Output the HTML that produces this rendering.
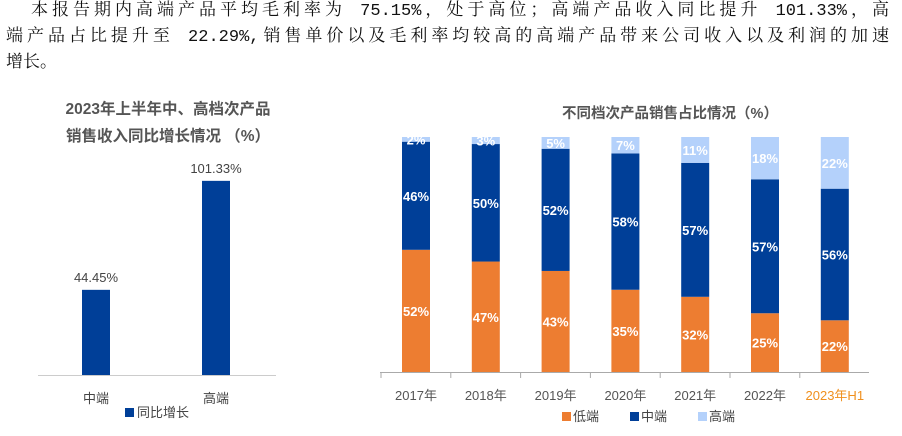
<!DOCTYPE html>
<html><head><meta charset="utf-8"><style>
body{margin:0;width:902px;height:436px;background:#fff;overflow:hidden;position:relative}
.pl{position:absolute;font-family:"Liberation Mono","Noto Serif CJK SC",serif;font-size:17px;line-height:26px;color:#111;white-space:nowrap;text-align:justify;text-align-last:justify}
svg{position:absolute;left:0;top:0}
text{font-family:"Liberation Sans","Noto Sans CJK SC",sans-serif}
</style></head><body>
<div>
<div class="pl" style="left:31px;top:-1px;width:858px">本报告期内高端产品平均毛利率为 75.15%，处于高位；高端产品收入同比提升 101.33%，高</div>
<div class="pl" style="left:6px;top:25px;width:883px">端产品占比提升至 22.29%,销售单价以及毛利率均较高的高端产品带来公司收入以及利润的加速</div>
<div class="pl" style="left:6px;top:51px;text-align-last:left">增长。</div>
</div>
<svg id="chart" width="902" height="436">
<text x="168" y="114" text-anchor="middle" font-size="15.5" font-weight="bold" fill="#555">2023年上半年中、高档次产品</text>
<text x="168" y="141" text-anchor="middle" font-size="15.5" font-weight="bold" fill="#555">销售收入同比增长情况 （%）</text>
<text x="670" y="118" text-anchor="middle" font-size="14.5" font-weight="bold" fill="#555">不同档次产品销售占比情况（%）</text>
<line x1="38" y1="375.5" x2="276" y2="375.5" stroke="#ccc"/>
<line x1="380" y1="372.5" x2="869" y2="372.5" stroke="#aaa"/>
<g id="left"></g><g id="right"></g>
<rect x="125" y="408" width="9" height="9" fill="#003f98"/>
<text x="137" y="417" font-size="13" fill="#444">同比增长</text>
<rect x="562" y="412" width="9" height="9" fill="#ed7d31"/>
<text x="573" y="421" font-size="13" fill="#444">低端</text>
<rect x="630" y="412" width="9" height="9" fill="#003f98"/>
<text x="641" y="421" font-size="13" fill="#444">中端</text>
<rect x="698" y="412" width="9" height="9" fill="#b4d1fb"/>
<text x="709" y="421" font-size="13" fill="#444">高端</text>
</svg>
<script>
const leftCats=["中端","高端"];
const leftVals=[44.45,101.33];
const leftLabels=["44.45%","101.33%"];
const years=["2017年","2018年","2019年","2020年","2021年","2022年","2023年H1"];
const lowVals=[52,47,43,35,32,25,22];
const midVals=[46,50,52,58,57,57,56];
const highVals=[2,3,5,7,11,18,22];
const NS="http://www.w3.org/2000/svg";
function mk(tag,attrs,parent,txt){const e=document.createElementNS(NS,tag);for(const k in attrs)e.setAttribute(k,attrs[k]);if(txt!==undefined)e.textContent=txt;parent.appendChild(e);return e;}
const L=document.getElementById('left');
const ly=v=>375-v*1.916; const lx=i=>96+i*120;
leftVals.forEach((v,i)=>{
 const r=mk('rect',{x:lx(i)-14,y:ly(v),width:28,height:375-ly(v),fill:'#003f98'},L);
 
 
 const t=mk('text',{x:lx(i),y:ly(v)-8,'text-anchor':'middle','font-size':13,fill:'#444'},L,leftLabels[i]);
 
 
 const c=mk('text',{x:lx(i),y:403,'text-anchor':'middle','font-size':13,fill:'#444'},L,leftCats[i]);
 
 
});
const R=document.getElementById('right');
const base=372, sc=2.35; const rx=i=>416+i*69.8;
years.forEach((y,i)=>{
 const segs=[[lowVals[i],'#ed7d31','low'],[midVals[i],'#003f98','mid'],[highVals[i],'#b4d1fb','high']];
 let cum=0;
 segs.forEach(([v,col,nm])=>{
  const y0=base-cum*sc, y1=base-(cum+v)*sc;
  const r=mk('rect',{x:rx(i)-14,y:y1,width:28,height:y0-y1,fill:col},R);
  
  
  const t=mk('text',{x:rx(i),y:(y0+y1)/2+5,'text-anchor':'middle','font-size':13,'font-weight':'bold',fill:'#fff'},R,v+'%');
  
  
  cum+=v;
 });
 const c=mk('text',{x:rx(i),y:400,'text-anchor':'middle','font-size':13,fill:i==6?'#f0901e':'#555'},R,y);
 
 
 const tk=mk('line',{x1:rx(i)-35,y1:372,x2:rx(i)-35,y2:378,stroke:'#aaa'},R);
 
 
});
</script>
</body></html>
